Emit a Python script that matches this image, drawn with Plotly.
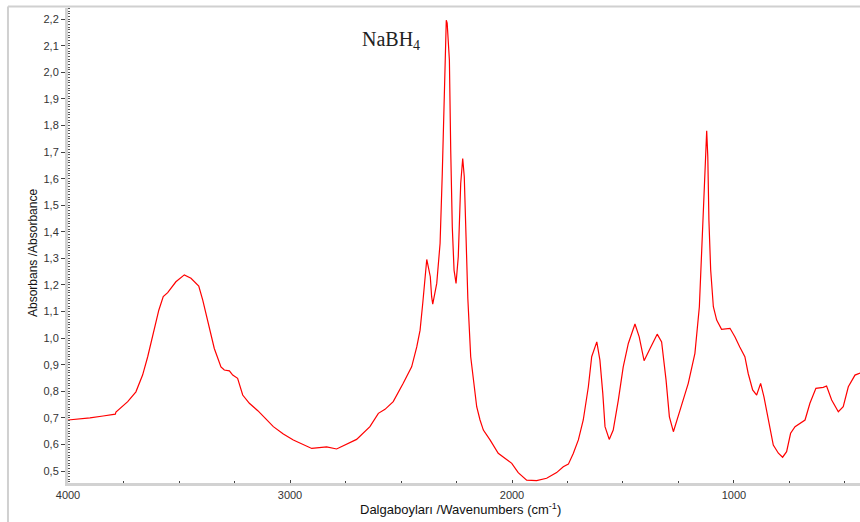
import plotly.graph_objects as go

# Wavenumber (cm^-1) and absorbance
wavenumbers = [4000, 3950, 3901, 3842, 3787, 3784, 3731, 3694, 3664, 3641, 3616, 3591, 3571,
               3551, 3514, 3476, 3446, 3411, 3393, 3371, 3341, 3311, 3296, 3273, 3258,
               3236, 3213, 3183, 3145, 3111, 3075, 3030, 2985, 2902, 2835, 2790, 2700,
               2640, 2602, 2572, 2535, 2490, 2452, 2429, 2414, 2402, 2392, 2384, 2377,
               2368, 2362, 2357, 2339, 2324, 2314, 2305, 2296, 2292, 2282, 2276, 2269,
               2261, 2252, 2242, 2231, 2222, 2215, 2207, 2199, 2186, 2171, 2159, 2144,
               2129, 2099, 2062, 2032, 2001, 1972, 1934, 1889, 1844, 1799, 1769, 1746,
               1724, 1701, 1679, 1656, 1641, 1618, 1604, 1591, 1581, 1562, 1544, 1521,
               1499, 1476, 1446, 1427, 1405, 1378, 1346, 1326, 1306, 1291, 1273, 1243,
               1206, 1176, 1156, 1141, 1134, 1127, 1123, 1118, 1113, 1105, 1093, 1078,
               1056, 1018, 996, 974, 951, 936, 916, 898, 880, 865, 846, 823, 800, 781,
               763, 745, 725, 703, 680, 658, 631, 598, 583, 560, 530, 508, 485, 455, 432, 420]
absorbance = [0.692, 0.695, 0.700, 0.707, 0.714, 0.722, 0.761, 0.798, 0.861, 0.930, 1.018, 1.105, 1.156,
              1.171, 1.212, 1.238, 1.225, 1.196, 1.143, 1.068, 0.961, 0.892, 0.880, 0.877, 0.861,
              0.849, 0.786, 0.755, 0.727, 0.698, 0.667, 0.639, 0.617, 0.585, 0.591, 0.583, 0.619,
              0.667, 0.717, 0.732, 0.761, 0.830, 0.892, 0.967, 1.030, 1.131, 1.243, 1.296, 1.268,
              1.231, 1.156, 1.128, 1.206, 1.356, 1.620, 1.870, 2.196, 2.185, 2.046, 1.707, 1.419,
              1.256, 1.206, 1.306, 1.582, 1.676, 1.607, 1.381, 1.150, 0.930, 0.817, 0.742, 0.692,
              0.654, 0.617, 0.567, 0.548, 0.529, 0.494, 0.466, 0.464, 0.473, 0.494, 0.516, 0.526,
              0.566, 0.617, 0.692, 0.817, 0.930, 0.986, 0.917, 0.792, 0.667, 0.619, 0.654, 0.767,
              0.892, 0.980, 1.053, 1.005, 0.915, 0.961, 1.015, 0.986, 0.842, 0.704, 0.648, 0.729,
              0.830, 0.943, 1.118, 1.419, 1.569, 1.682, 1.780, 1.682, 1.444, 1.256, 1.118, 1.068,
              1.033, 1.037, 1.005, 0.967, 0.930, 0.867, 0.805, 0.786, 0.830, 0.779, 0.692, 0.598, 0.567, 0.552,
              0.573, 0.642, 0.667, 0.679, 0.692, 0.755, 0.811, 0.815, 0.820, 0.767, 0.723, 0.742, 0.817, 0.861, 0.870, 0.872]

x_tickvals = [4000, 3000, 2000, 1000]
x_ticktext = ["4000", "3000", "2000", "1000"]
y_tickvals = [0.5, 0.6, 0.7, 0.8, 0.9, 1.0, 1.1, 1.2, 1.3, 1.4, 1.5, 1.6, 1.7, 1.8, 1.9, 2.0, 2.1, 2.2]
y_ticktext = ["0,5", "0,6", "0,7", "0,8", "0,9", "1,0", "1,1", "1,2", "1,3", "1,4", "1,5",
              "1,6", "1,7", "1,8", "1,9", "2,0", "2,1", "2,2"]

fig = go.Figure()
fig.add_trace(go.Scatter(x=wavenumbers, y=absorbance, mode="lines",
                         line=dict(color="#ff0000", width=1.2), showlegend=False,
                         hoverinfo="skip"))

tickfont = dict(family="Liberation Sans, Arial, sans-serif", size=11, color="#333333")

fig.update_layout(
    width=860, height=522,
    margin=dict(l=68, r=0, t=8, b=39),
    paper_bgcolor="white", plot_bgcolor="white",
    separators=",.",
    xaxis=dict(range=[4000, 432.4], showgrid=False, zeroline=False,
               showline=True, linecolor="#d2d2d2", linewidth=3,
               tickmode="array", tickvals=x_tickvals, ticktext=x_ticktext,
               ticks="inside", ticklen=3, tickcolor="#444444", tickwidth=1,
               minor=dict(dtick=250, tick0=0, ticks="inside", ticklen=2, tickcolor="#444444", tickwidth=1),
               tickfont=tickfont),
    yaxis=dict(range=[0.455, 2.242], showgrid=False, zeroline=False,
               showline=True, linecolor="#d2d2d2", linewidth=3,
               tickmode="array", tickvals=y_tickvals, ticktext=y_ticktext,
               ticks="outside", ticklen=4, tickcolor="#444444", tickwidth=1,
               minor=dict(dtick=0.01, tick0=0, ticks="inside", ticklen=2, tickcolor="#555555", tickwidth=1),
               tickfont=tickfont),
    shapes=[
        dict(type="line", xref="paper", yref="paper", x0=-0.0758, x1=-0.0758, y0=-0.2, y1=1.003,
             line=dict(color="#d0d0d0", width=2)),
        dict(type="line", xref="paper", yref="paper", x0=-0.0758, x1=1.05, y0=1.003, y1=1.003,
             line=dict(color="#d0d0d0", width=2)),
    ],
    annotations=[
        dict(text="NaBH<sub>4</sub>", xref="paper", yref="paper", x=(360 - 68) / 792,
             y=(483 - 40) / 475, xanchor="left", yanchor="middle", showarrow=False,
             font=dict(family="Liberation Serif, Times New Roman, serif", size=20, color="#222222")),
        dict(text="Absorbans /Absorbance", xref="paper", yref="paper", x=(33 - 68) / 792,
             y=(483 - 253) / 475, xanchor="center", yanchor="middle", textangle=-90, showarrow=False,
             font=dict(family="Liberation Sans, Arial, sans-serif", size=12, color="#111111")),
        dict(text="Dalgaboyları /Wavenumbers (cm<sup>-1</sup>)", xref="paper", yref="paper",
             x=(460 - 68) / 792, y=(483 - 509) / 475, xanchor="center", yanchor="middle",
             showarrow=False,
             font=dict(family="Liberation Sans, Arial, sans-serif", size=13, color="#111111")),
    ],
)

fig.write_html("out.html", config={"displayModeBar": False},
               post_script="document.body.style.margin='0';document.body.style.overflow='hidden';")
